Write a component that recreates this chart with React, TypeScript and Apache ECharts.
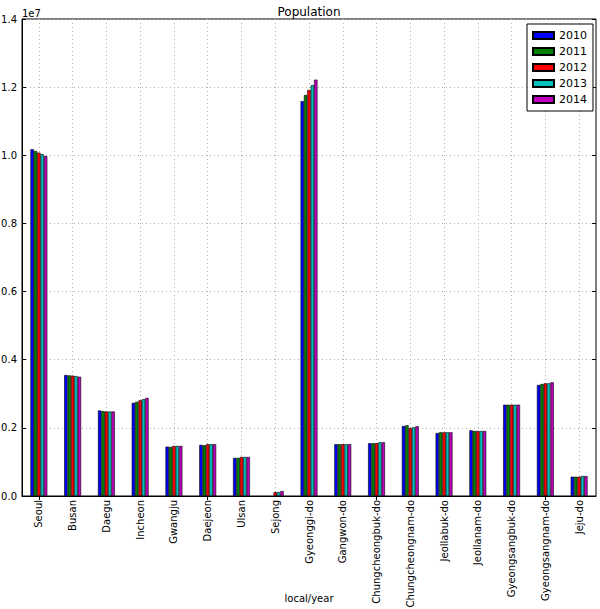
import React, { useEffect, useRef } from "react";
import * as echarts from "echarts";

const categories = [
  "Seoul", "Busan", "Daegu", "Incheon", "Gwangju", "Daejeon", "Ulsan", "Sejong",
  "Gyeonggi-do", "Gangwon-do", "Chungcheongbuk-do", "Chungcheongnam-do",
  "Jeollabuk-do", "Jeollanam-do", "Gyeongsangbuk-do", "Gyeongsangnam-do", "Jeju-do",
];

const years = ["2010", "2011", "2012", "2013", "2014"];

const pop2010 = [10176000, 3550000, 2510000, 2735000, 1450000, 1500000, 1118000, null, 11590000, 1520000, 1550000, 2055000, 1849000, 1928000, 2680000, 3258000, 567000];
const pop2011 = [10127000, 3540000, 2490000, 2765000, 1440000, 1490000, 1118000, null, 11770000, 1520000, 1550000, 2075000, 1870000, 1908000, 2680000, 3287000, 567000];
const pop2012 = [10079000, 3530000, 2480000, 2810000, 1470000, 1520000, 1147000, 110000, 11920000, 1520000, 1550000, 1996000, 1870000, 1908000, 2680000, 3307000, 567000];
const pop2013 = [10030000, 3520000, 2480000, 2840000, 1470000, 1520000, 1147000, 115000, 12060000, 1520000, 1576000, 2016000, 1870000, 1908000, 2680000, 3307000, 587000];
const pop2014 = [9980000, 3500000, 2480000, 2880000, 1470000, 1520000, 1147000, 145000, 12220000, 1520000, 1576000, 2045000, 1870000, 1908000, 2680000, 3336000, 587000];

const seriesValues = [pop2010, pop2011, pop2012, pop2013, pop2014];
const colors = ["#0000ff", "#008000", "#ff0000", "#00bfbf", "#bf00bf"];

const FONT = "DejaVu Sans";

export default function App() {
  const ref = useRef<HTMLDivElement>(null);
  useEffect(() => {
    if (!ref.current) return;
    const chart = echarts.init(ref.current, null, { renderer: "svg" });
    const grid = { left: 22, top: 19, right: 4, bottom: 113 };
    const gridLine = { show: true, lineStyle: { color: "#b0b0b0", type: [1, 3] as any, width: 1 } };
    chart.setOption({
      animation: false,
      backgroundColor: "#ffffff",
      textStyle: { fontFamily: FONT },
      title: {
        text: "Population",
        left: 309,
        top: 6,
        padding: 0,
        textAlign: "center",
        textStyle: { fontFamily: FONT, fontSize: 12, fontWeight: "normal", color: "#000" },
      },
      graphic: [
        {
          type: "text",
          left: 22,
          top: 8,
          style: { text: "1e7", fontFamily: FONT, fontSize: 10, fill: "#000" },
        },
        {
          type: "text",
          x: 309,
          y: 598,
          style: {
            text: "local/year",
            fontFamily: FONT,
            fontSize: 10,
            fill: "#000",
            textAlign: "center",
            textVerticalAlign: "middle",
          },
        },
      ],
      legend: {
        show: true,
        orient: "vertical",
        left: 527,
        top: 24,
        padding: [5, 6, 5, 5],
        itemWidth: 21,
        itemHeight: 7,
        itemGap: 3,
        borderColor: "#000",
        borderWidth: 1,
        backgroundColor: "#fff",
        icon: "rect",
        textStyle: { fontFamily: FONT, fontSize: 11, color: "#000", lineHeight: 13 },
        data: years,
      },
      grid: {
        ...grid,
        outerBoundsMode: "none",
        containLabel: false,
        show: true,
        borderColor: "#000",
        borderWidth: 1,
        backgroundColor: "transparent",
      },
      xAxis: [
        {
          type: "category",
          data: categories,
          position: "bottom",
          axisLine: { show: true, lineStyle: { color: "#000" } },
          axisTick: { show: true, inside: true, alignWithLabel: true, length: 4, lineStyle: { color: "#000" } },
          axisLabel: { rotate: 90, margin: 4, fontFamily: FONT, fontSize: 10, color: "#000", interval: 0 },
          splitLine: { ...gridLine, alignWithLabel: true, interval: 0 } as any,
        },
        {
          type: "category",
          data: categories,
          position: "top",
          axisLine: { show: false },
          axisTick: { show: true, inside: true, alignWithLabel: true, length: 4, lineStyle: { color: "#000" } },
          axisLabel: { show: false },
          splitLine: { show: false },
        },
      ],
      yAxis: [
        {
          type: "value",
          min: 0,
          max: 14000000,
          interval: 2000000,
          axisLine: { show: true, lineStyle: { color: "#000" } },
          axisTick: { show: true, inside: true, length: 4, lineStyle: { color: "#000" } },
          axisLabel: {
            margin: 5,
            fontFamily: FONT,
            fontSize: 10,
            color: "#000",
            formatter: (v: number) => (v / 1e7).toFixed(1),
          },
          splitLine: gridLine,
        },
        {
          type: "value",
          position: "right",
          min: 0,
          max: 14000000,
          interval: 2000000,
          axisLine: { show: false },
          axisTick: { show: true, inside: true, length: 4, lineStyle: { color: "#000" } },
          axisLabel: { show: false },
          splitLine: { show: false },
        },
      ],
      series: years.map((y, i) => ({
        name: y,
        type: "bar",
        xAxisIndex: 0,
        yAxisIndex: 0,
        data: seriesValues[i],
        barWidth: "10%",
        barGap: "0%",
        itemStyle: { color: colors[i], borderColor: "#000", borderWidth: 0.6 },
      })),
    });
    return () => chart.dispose();
  }, []);
  return (
    <div
      ref={ref}
      style={{ position: "absolute", left: 0, top: 0, width: 600, height: 609 }}
    />
  );
}
